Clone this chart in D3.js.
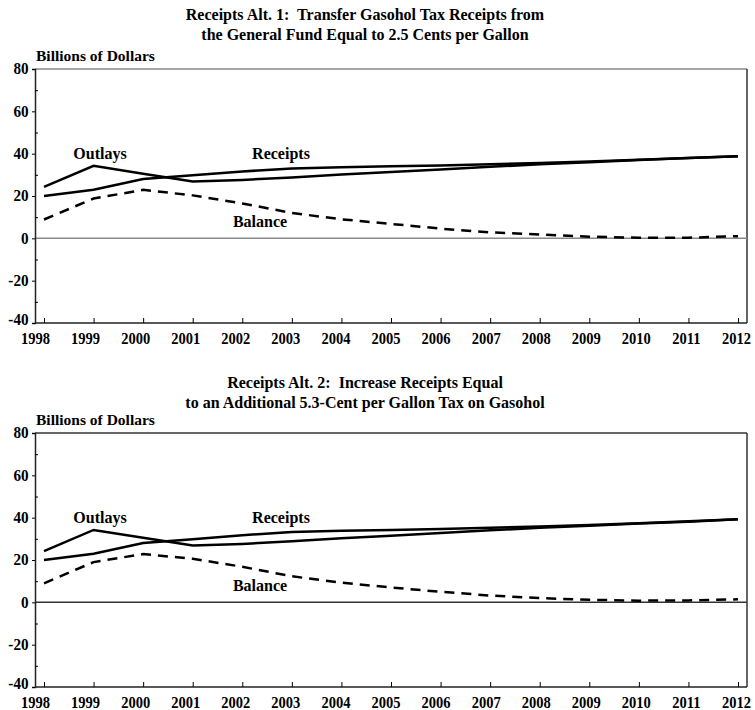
<!DOCTYPE html>
<html>
<head>
<meta charset="utf-8">
<script src="https://cdn.jsdelivr.net/npm/d3@7"></script>
<style>
  body { margin: 0; background: #fff; }
  text { font-family: "Liberation Serif", "Times New Roman", serif; font-weight: bold; fill: #000; white-space: pre; }
</style>
</head>
<body>
<svg id="chart" width="755" height="710"></svg>
<script>
const years = [1998, 1999, 2000, 2001, 2002, 2003, 2004, 2005, 2006, 2007, 2008, 2009, 2010, 2011, 2012];
const yTicks = [-40, -20, 0, 20, 40, 60, 80];

// Alt. 1
const outlays1  = [24.3, 34.3, 30.5, 26.8, 27.6, 28.7, 30.1, 31.3, 32.5, 33.8, 35.0, 36.0, 37.0, 37.9, 38.8];
const receipts1 = [20.0, 23.0, 28.0, 29.8, 31.6, 33.0, 33.6, 34.0, 34.4, 35.0, 35.6, 36.3, 37.1, 37.9, 38.8];
const balance1  = [8.9, 18.8, 22.9, 20.3, 16.5, 12.0, 9.0, 6.8, 4.6, 2.8, 1.8, 0.8, 0.3, 0.3, 1.0];

// Alt. 2
const outlays2  = [24.2, 34.2, 30.5, 26.8, 27.6, 28.8, 30.3, 31.5, 32.7, 34.0, 35.2, 36.2, 37.2, 38.1, 39.2];
const receipts2 = [20.0, 23.0, 28.0, 29.8, 31.7, 33.2, 33.8, 34.2, 34.6, 35.2, 35.8, 36.5, 37.4, 38.3, 39.2];
const balance2  = [9.0, 19.0, 22.8, 20.6, 16.8, 12.3, 9.3, 7.0, 5.0, 3.2, 2.0, 1.2, 0.8, 0.9, 1.4];

const titles1 = ["Receipts Alt. 1:  Transfer Gasohol Tax Receipts from", "the General Fund Equal to 2.5 Cents per Gallon"];
const titles2 = ["Receipts Alt. 2:  Increase Receipts Equal", "to an Additional 5.3-Cent per Gallon Tax on Gasohol"];

const svg = d3.select("#chart");

const plotLeft = 35, plotRight = 747, plotTop = 69, plotBottom = 323;

const x = d3.scaleLinear().domain([1998, 2012]).range([44, 738]);
// year labels sit a little left of their ticks at the start of the axis
const xLabel = d3.scaleLinear().domain([1998, 2012]).range([35, 736]);
const y = d3.scaleLinear().domain([-40, 80]).range([plotBottom, plotTop]);

function drawChart(offsetY, titleY, titles, outlays, receipts, balance, frameColor) {
  const g = svg.append("g").attr("transform", `translate(0,${offsetY})`);

  g.selectAll(".title")
    .data(titles)
    .enter().append("text")
    .attr("x", 365)
    .attr("y", (d, i) => titleY + i * 19.5)
    .attr("text-anchor", "middle")
    .style("font-size", "16px")
    .text(d => d);

  g.append("text")
    .attr("x", 36)
    .attr("y", 60.5)
    .style("font-size", "15.5px")
    .text("Billions of Dollars");

  // frame
  g.append("line").attr("x1", plotLeft).attr("x2", plotRight).attr("y1", plotTop).attr("y2", plotTop)
    .attr("stroke", frameColor).attr("stroke-width", 1.3);
  g.append("line").attr("x1", plotRight).attr("x2", plotRight).attr("y1", plotTop).attr("y2", plotBottom)
    .attr("stroke", "#333").attr("stroke-width", 1.5);

  // zero line
  g.append("line").attr("x1", plotLeft).attr("x2", plotRight).attr("y1", y(0)).attr("y2", y(0))
    .attr("stroke", frameColor).attr("stroke-width", 1.5);

  // y axis
  const yAxis = g.append("g").attr("transform", `translate(${plotLeft},0)`)
    .call(d3.axisLeft(y).tickValues(yTicks).tickSize(3).tickPadding(4).tickFormat(d => String(d)));
  yAxis.select(".domain").attr("stroke", "#222").attr("stroke-width", 1.5);
  yAxis.selectAll("text")
    .attr("dy", d => d === -40 ? "0.1em" : "0.3em")
    .attr("transform", "scale(0.92,1)")
    .style("font-size", "16.5px").style("font-family", "Liberation Serif, serif").style("font-weight", "bold");

  // minor inside ticks
  g.append("g").attr("transform", `translate(${plotLeft},0)`)
    .call(d3.axisRight(y).tickValues(d3.range(-30, 80, 20)).tickSize(3).tickFormat(""))
    .call(a => a.select(".domain").remove());

  // x axis
  const xAxis = g.append("g").attr("transform", `translate(0,${plotBottom})`)
    .call(d3.axisBottom(x).tickValues(years).tickSize(-5).tickFormat(d3.format("d")));
  xAxis.select(".domain").attr("d", `M${plotLeft},0H${plotRight}`).attr("stroke", "#222").attr("stroke-width", 1.5);
  xAxis.selectAll("text")
    .attr("y", 21).attr("dy", null)
    .attr("transform", d => `translate(${xLabel(d) - x(d)},0) scale(0.88,1)`)
    .style("font-size", "16.5px").style("font-family", "Liberation Serif, serif").style("font-weight", "bold");

  const line = d3.line().x((d, i) => x(years[i])).y(d => y(d));

  g.append("path").datum(outlays).attr("d", line)
    .attr("fill", "none").attr("stroke", "#000").attr("stroke-width", 2.5);
  g.append("path").datum(receipts).attr("d", line)
    .attr("fill", "none").attr("stroke", "#000").attr("stroke-width", 2.5);
  g.append("path").datum(balance).attr("d", line)
    .attr("fill", "none").attr("stroke", "#000").attr("stroke-width", 2.5)
    .attr("stroke-dasharray", "10,7");

  const labels = [
    { text: "Outlays", x: 100, y: 159 },
    { text: "Receipts", x: 281, y: 159 },
    { text: "Balance", x: 260, y: 227 }
  ];
  g.selectAll(".series-label")
    .data(labels)
    .enter().append("text")
    .attr("x", d => d.x)
    .attr("y", d => d.y)
    .attr("text-anchor", "middle")
    .style("font-size", "16px")
    .text(d => d.text);
}

drawChart(0, 20, titles1, outlays1, receipts1, balance1, "#888");
drawChart(364, 24, titles2, outlays2, receipts2, balance2, "#333");
</script>
</body>
</html>
